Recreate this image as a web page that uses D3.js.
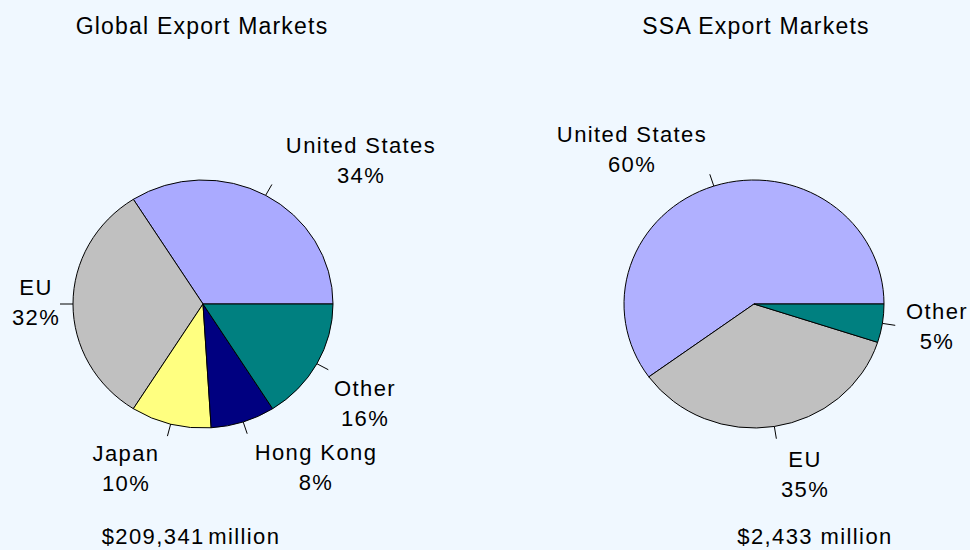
<!DOCTYPE html>
<html>
<head>
<meta charset="utf-8">
<script src="https://cdn.jsdelivr.net/npm/d3@7"></script>
<style>
  html, body { margin: 0; padding: 0; background: #f0f8ff; }
  svg { display: block; }
  text { font-family: "Liberation Sans", Arial, sans-serif; fill: #000; }
</style>
</head>
<body>
<svg id="chart" width="970" height="550"></svg>
<script>
// ---- data ----
const globalTitle = "Global Export Markets";
const globalCategories = ["United States", "EU", "Japan", "Hong Kong", "Other"];
const globalValues = [34, 32, 10, 8, 16];
const globalColors = ["#aaaaff", "#c0c0c0", "#ffff80", "#000080", "#008080"];
const globalTotal = "$209,341 million";

const ssaTitle = "SSA Export Markets";
const ssaCategories = ["United States", "EU", "Other"];
const ssaValues = [60, 35, 5];
const ssaColors = ["#b0b0ff", "#c0c0c0", "#008080"];
const ssaTotal = "$2,433 million";

// ---- layout ----
const W = 970, H = 550;
const R = 130, RY = 124;
const globalLayout = {
  cx: 203, cy: 304, titleX: 202, totalX: 191, totalWordSpacing: "-4px",
  labelPos: [[361, 153], [36, 295], [126, 461], [316, 460], [365, 396]]
};
const ssaLayout = {
  cx: 754, cy: 304, titleX: 756, totalX: 815, totalWordSpacing: "0px",
  labelPos: [[632, 142], [805, 467], [937, 319]]
};

const svg = d3.select("#chart");
svg.append("rect").attr("width", W).attr("height", H).attr("fill", "#f0f8ff");

function drawPie(title, cats, vals, colors, total, L) {
  const g = svg.append("g");
  g.append("text").attr("x", L.titleX).attr("y", 34)
    .attr("text-anchor", "middle").style("font-size", "23px").style("letter-spacing", "1.2px")
    .text(title);

  const pie = d3.pie().sort(null).value(d => d)
    .startAngle(Math.PI / 2).endAngle(Math.PI / 2 - 2 * Math.PI);
  const arcs = pie(vals);
  const arc = d3.arc().innerRadius(0).outerRadius(R);
  const sy = RY / R;

  const pg = g.append("g").attr("transform", `translate(${L.cx},${L.cy}) scale(1,${sy})`);
  pg.selectAll("path").data(arcs).enter().append("path")
    .attr("d", arc)
    .attr("fill", (d, i) => colors[i])
    .attr("stroke", "#000")
    .attr("stroke-width", 1)
    .attr("vector-effect", "non-scaling-stroke");

  // leader ticks
  pg.selectAll("line").data(arcs).enter().append("line")
    .attr("x1", d => Math.sin((d.startAngle + d.endAngle) / 2) * R)
    .attr("y1", d => -Math.cos((d.startAngle + d.endAngle) / 2) * R)
    .attr("x2", d => Math.sin((d.startAngle + d.endAngle) / 2) * R * 1.1)
    .attr("y2", d => -Math.cos((d.startAngle + d.endAngle) / 2) * R * 1.1)
    .attr("stroke", "#000").attr("stroke-width", 1)
    .attr("vector-effect", "non-scaling-stroke");

  const fmt = d3.format(".0%");
  const sum = d3.sum(vals);
  arcs.forEach((d, i) => {
    const [x, y] = L.labelPos[i];
    const t = g.append("text").attr("text-anchor", "middle")
      .style("font-size", "22px").style("letter-spacing", "1.4px");
    t.append("tspan").attr("x", x).attr("y", y).text(cats[i]);
    t.append("tspan").attr("x", x).attr("y", y + 30).text(fmt(vals[i] / sum));
  });

  g.append("text").attr("x", L.totalX).attr("y", 544)
    .attr("text-anchor", "middle").style("font-size", "22px").style("letter-spacing", "1.4px")
    .style("word-spacing", L.totalWordSpacing)
    .text(total);
}

drawPie(globalTitle, globalCategories, globalValues, globalColors, globalTotal, globalLayout);
drawPie(ssaTitle, ssaCategories, ssaValues, ssaColors, ssaTotal, ssaLayout);
</script>
</body>
</html>
